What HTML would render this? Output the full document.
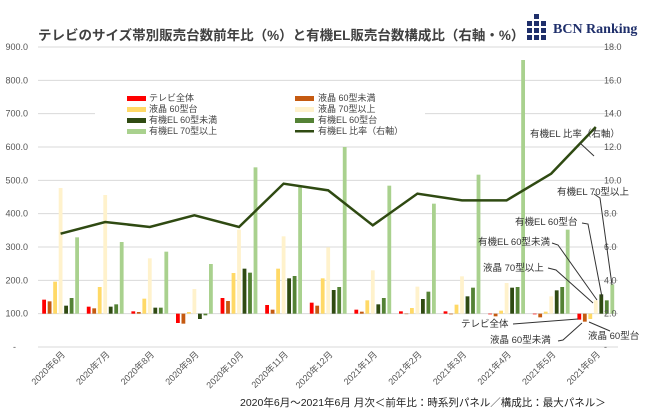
<!DOCTYPE html>
<html><head><meta charset="utf-8"><style>
html,body{margin:0;padding:0;background:#fff}
svg{display:block;font-family:"Liberation Sans","Noto Sans CJK JP",sans-serif}
</style></head><body>
<svg id="c" width="650" height="420" viewBox="0 0 650 420" xmlns="http://www.w3.org/2000/svg">
<rect width="650" height="420" fill="#fff"/>
<g id="grid" stroke="#d9d9d9" stroke-width="1"></g>
<rect x="95" y="92" width="330" height="47" fill="#fff"/>
<g id="bars"></g>
<polyline id="ln" fill="none" stroke="#2f4a12" stroke-width="2.5"/>
<g font-size="9" fill="#444">
<rect x="127" y="96" width="19" height="5" fill="#ff0000"/><text x="149" y="101">テレビ全体</text>
<rect x="127" y="107" width="19" height="5" fill="#ffd966"/><text x="149" y="112">液晶 60型台</text>
<rect x="127" y="118" width="19" height="5" fill="#2f4a12"/><text x="149" y="123">有機EL 60型未満</text>
<rect x="127" y="129" width="19" height="5" fill="#a9d18e"/><text x="149" y="134">有機EL 70型以上</text>
<rect x="295" y="96" width="19" height="5" fill="#c55a11"/><text x="318" y="101">液晶 60型未満</text>
<rect x="295" y="107" width="19" height="5" fill="#fff2cc"/><text x="318" y="112">液晶 70型以上</text>
<rect x="295" y="118" width="19" height="5" fill="#548235"/><text x="318" y="123">有機EL 60型台</text>
<rect x="295" y="130" width="19" height="2.5" fill="#2f4a12"/><text x="318" y="134">有機EL 比率（右軸）</text>
</g>
<g id="yl" font-size="9" fill="#555"></g>
<g id="xl" font-size="9" fill="#555"></g>
<text x="38" y="40" font-size="13.5" font-weight="bold" fill="#404040">テレビのサイズ帯別販売台数前年比（%）と有機EL販売台数構成比（右軸・%）</text>
<g fill="#1f2f6b" id="logo"></g>
<text x="553" y="33" font-size="14" font-family="Liberation Serif,serif" fill="#1f2f6b" font-weight="bold">BCN Ranking</text>
<g font-size="9.5" fill="#333">
<text x="530" y="137">有機EL 比率（右軸）</text>
<text x="557" y="195">有機EL 70型以上</text>
<text x="515" y="225">有機EL 60型台</text>
<text x="478" y="245">有機EL 60型未満</text>
<text x="483" y="271">液晶 70型以上</text>
<text x="461" y="327">テレビ全体</text>
<text x="490" y="343">液晶 60型未満</text>
<text x="588" y="339">液晶 60型台</text>
</g>
<g stroke="#333" stroke-width="1" fill="none">
<polyline points="580,143 594,156"/>
<polyline points="594,194 600,198 612,285"/>
<polyline points="582,223 588,224 602,297"/>
<polyline points="552,243 558,245 597,300"/>
<polyline points="548,268 556,270 593,303"/>
<polyline points="513,324 578,319"/>
<polyline points="558,341 563,340 582,323"/>
<polyline points="610,331 589,322"/>
</g>
<text x="240" y="406" font-size="10.5" fill="#222">2020年6月～2021年6月 月次＜前年比：時系列パネル／構成比：最大パネル＞</text>
</svg>
<script>
var NS="http://www.w3.org/2000/svg";
function el(t,a,p){var e=document.createElementNS(NS,t);for(var k in a)e.setAttribute(k,a[k]);p.appendChild(e);return e;}
var g=document.getElementById('grid');
for(var v=100;v<=900;v+=100){var y=347-v/3;el('line',{x1:38,x2:618,y1:y,y2:y},g);}
el('line',{x1:38,x2:618,y1:347,y2:347},g);
var yl=document.getElementById('yl');
for(var v=0;v<=900;v+=100){var y=347-v/3+3;var t=el('text',{x:v?28:16,y:y,'text-anchor':'end'},yl);t.textContent=v?v.toFixed(1):'-';
 var r=v/50;var t2=el('text',{x:604,y:y},yl);t2.textContent=v?r.toFixed(1):'-';}
var cols=['#ff0000','#c55a11','#ffd966','#fff2cc','#2f4a12','#548235','#a9d18e'];
var D=[[142,137,196,477,124,147,329],[121,116,180,456,121,128,315],[107,105,145,266,118,118,286],[72,70,105,174,84,95,249],
[147,138,222,352,235,223,539],[126,112,235,332,206,213,480],[133,124,206,299,171,180,600],[112,106,140,230,128,147,484],
[107,100,117,181,144,166,430],[107,98,127,212,152,178,517],[98,92,109,192,178,180,861],[98,89,106,152,170,180,352],[82,76,84,140,158,140,188]];
var L=[6.8,7.5,7.2,7.9,7.2,9.8,9.4,7.3,9.2,8.8,8.8,10.4,13.2];
var M=['2020年6月','2020年7月','2020年8月','2020年9月','2020年10月','2020年11月','2020年12月','2021年1月','2021年2月','2021年3月','2021年4月','2021年5月','2021年6月'];
var b=document.getElementById('bars'),xl=document.getElementById('xl'),pts=[];
for(var i=0;i<13;i++){var cx=60.6+44.6*i;
 for(var j=0;j<7;j++){var v=D[i][j];var y0=347-100/3,y1=347-v/3;var x=cx-16.5+5.5*j-1.9;
  el('rect',{x:x,y:Math.min(y0,y1),width:3.8,height:Math.abs(y1-y0)||0.5,fill:cols[j]},b);}
 pts.push(cx+','+(347-L[i]*16.667));
 var t=el('text',{x:cx+5,y:355,'text-anchor':'end',transform:'rotate(-45 '+(cx+5)+' 355)'},xl);t.textContent=M[i];}
document.getElementById('ln').setAttribute('points',pts.join(' '));
var lg=document.getElementById('logo');
for(var r=0;r<4;r++)for(var c=0;c<3;c++){if(r==0&&c!=1)continue;el('rect',{x:527+c*7,y:14+r*7,width:5,height:5},lg);}
</script>
</body></html>
